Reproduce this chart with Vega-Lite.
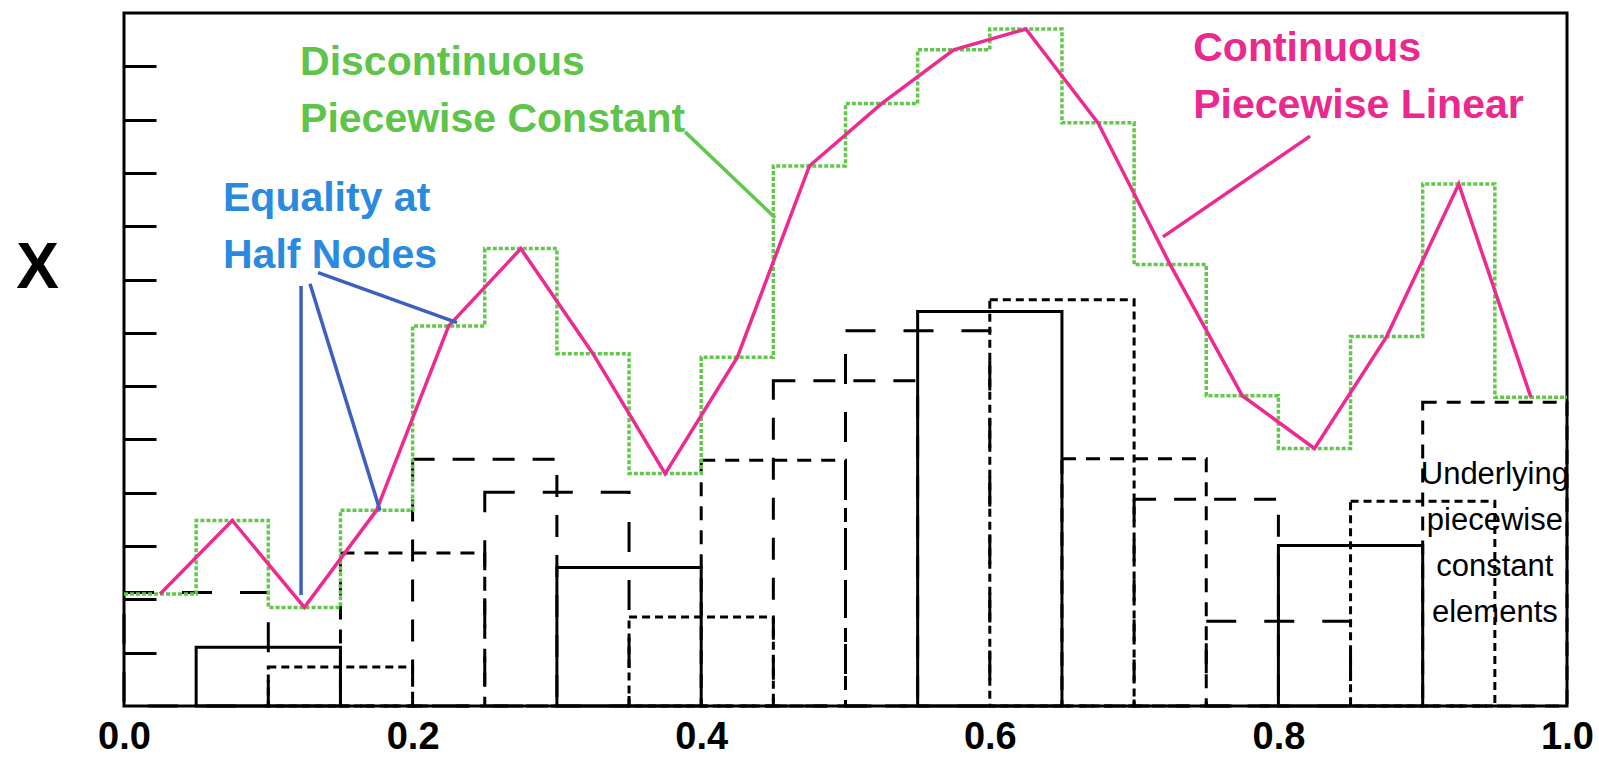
{
  "$schema": "https://vega.github.io/schema/vega-lite/v6.json",
  "width": 1443,
  "height": 693,
  "autosize": {"type": "none"},
  "padding": {"left": 124, "top": 13, "right": 32, "bottom": 51},
  "background": "white",
  "config": {"view": {"stroke": "black", "strokeWidth": 3}, "font": "Liberation Sans"},
  "resolve": {"scale": {"color": "independent"}},
  "datasets": {
    "elements": [
      {"a": 0.00, "b": 0.10, "h": 2.13, "style": "long"},
      {"a": 0.05, "b": 0.15, "h": 1.10, "style": "solid"},
      {"a": 0.10, "b": 0.20, "h": 0.73, "style": "short"},
      {"a": 0.15, "b": 0.25, "h": 2.87, "style": "medium"},
      {"a": 0.20, "b": 0.30, "h": 4.63, "style": "longish"},
      {"a": 0.25, "b": 0.35, "h": 4.01, "style": "long"},
      {"a": 0.30, "b": 0.40, "h": 2.60, "style": "solid"},
      {"a": 0.35, "b": 0.45, "h": 1.67, "style": "short"},
      {"a": 0.40, "b": 0.50, "h": 4.61, "style": "medium"},
      {"a": 0.45, "b": 0.55, "h": 6.10, "style": "longish"},
      {"a": 0.50, "b": 0.60, "h": 7.04, "style": "long"},
      {"a": 0.55, "b": 0.65, "h": 7.40, "style": "solid"},
      {"a": 0.60, "b": 0.70, "h": 7.62, "style": "short"},
      {"a": 0.65, "b": 0.75, "h": 4.64, "style": "medium"},
      {"a": 0.70, "b": 0.80, "h": 3.88, "style": "longish"},
      {"a": 0.75, "b": 0.85, "h": 1.59, "style": "long"},
      {"a": 0.80, "b": 0.90, "h": 3.01, "style": "solid"},
      {"a": 0.85, "b": 0.95, "h": 3.84, "style": "short"},
      {"a": 0.90, "b": 1.00, "h": 5.70, "style": "medium"}
    ],
    "green": [
      {"x": 0.00, "g": 2.10}, {"x": 0.05, "g": 3.48}, {"x": 0.10, "g": 1.85}, {"x": 0.15, "g": 3.67},
      {"x": 0.20, "g": 7.13}, {"x": 0.25, "g": 8.58}, {"x": 0.30, "g": 6.61}, {"x": 0.35, "g": 4.36},
      {"x": 0.40, "g": 6.54}, {"x": 0.45, "g": 10.13}, {"x": 0.50, "g": 11.30}, {"x": 0.55, "g": 12.31},
      {"x": 0.60, "g": 12.70}, {"x": 0.65, "g": 10.94}, {"x": 0.70, "g": 8.28}, {"x": 0.75, "g": 5.82},
      {"x": 0.80, "g": 4.83}, {"x": 0.85, "g": 6.93}, {"x": 0.90, "g": 9.79}, {"x": 0.95, "g": 5.79},
      {"x": 1.00, "g": 5.79}
    ],
    "pink": [
      {"x": 0.025, "g": 2.10}, {"x": 0.075, "g": 3.48}, {"x": 0.125, "g": 1.85}, {"x": 0.175, "g": 3.67},
      {"x": 0.225, "g": 7.13}, {"x": 0.275, "g": 8.58}, {"x": 0.325, "g": 6.61}, {"x": 0.375, "g": 4.36},
      {"x": 0.425, "g": 6.54}, {"x": 0.475, "g": 10.13}, {"x": 0.525, "g": 11.30}, {"x": 0.575, "g": 12.31},
      {"x": 0.625, "g": 12.70}, {"x": 0.675, "g": 10.94}, {"x": 0.725, "g": 8.28}, {"x": 0.775, "g": 5.82},
      {"x": 0.825, "g": 4.83}, {"x": 0.875, "g": 6.93}, {"x": 0.925, "g": 9.79}, {"x": 0.975, "g": 5.79}
    ],
    "leaders": [
      {"x": 0.1227, "g": 7.88, "x2": 0.1227, "g2": 2.08, "kind": "blue"},
      {"x": 0.1289, "g": 7.92, "x2": 0.1774, "g2": 3.67, "kind": "blue"},
      {"x": 0.1345, "g": 8.13, "x2": 0.2308, "g2": 7.19, "kind": "blue"},
      {"x": 0.3888, "g": 10.77, "x2": 0.4512, "g2": 9.16, "kind": "green"},
      {"x": 0.8219, "g": 10.69, "x2": 0.7200, "g2": 8.80, "kind": "pink"}
    ],
    "notes": [
      {"x": 0.122, "g": 11.83, "t": "Discontinuous\nPiecewise Constant", "kind": "green"},
      {"x": 0.0686, "g": 9.29, "t": "Equality at\nHalf Nodes", "kind": "blue"},
      {"x": 0.741, "g": 12.10, "t": "Continuous\nPiecewise Linear", "kind": "pink"}
    ],
    "under": [
      {"x": 0.950, "g": 4.16, "t": "Underlying\npiecewise\nconstant\nelements"}
    ]
  },
  "encoding": {
    "x": {"type": "quantitative", "scale": {"domain": [0, 1], "nice": false, "zero": false},
      "axis": {"values": [0, 0.2, 0.4, 0.6, 0.8, 1], "format": ".1f", "labelFontSize": 38, "labelFont": "Liberation Sans",
        "labelFontWeight": "bold", "labelColor": "black", "labelPadding": 50, "labelBaseline": "bottom",
        "ticks": false, "domain": false, "grid": false, "title": null, "labelFlush": false}},
    "y": {"type": "quantitative", "scale": {"domain": [0, 13], "nice": false, "zero": false},
      "axis": {"title": "X", "titleAngle": 0, "titleFontSize": 64, "titleFont": "Liberation Sans", "titleFontWeight": "bold",
        "titleColor": "black", "titleX": -87, "titleY": 255, "titleAlign": "center", "titleBaseline": "middle",
        "labels": false, "ticks": true, "tickSize": -32, "tickWidth": 3, "tickColor": "black", "domain": false,
        "grid": false, "values": [1, 2, 3, 4, 5, 6, 7, 8, 9, 10, 11, 12]}}
  },
  "layer": [
    {
      "data": {"name": "elements"},
      "transform": [{"filter": "datum.style == 'solid'"}],
      "mark": {"type": "rect", "fill": "transparent", "stroke": "black", "strokeWidth": 3},
      "encoding": {"x": {"field": "a"}, "x2": {"field": "b"}, "y": {"field": "h"}, "y2": {"datum": 0}}
    },
    {
      "data": {"name": "elements"},
      "transform": [{"filter": "datum.style == 'short'"}],
      "mark": {"type": "rect", "fill": "transparent", "stroke": "black", "strokeWidth": 3, "strokeDash": [8, 5]},
      "encoding": {"x": {"field": "a"}, "x2": {"field": "b"}, "y": {"field": "h"}, "y2": {"datum": 0}}
    },
    {
      "data": {"name": "elements"},
      "transform": [{"filter": "datum.style == 'medium'"}],
      "mark": {"type": "rect", "fill": "transparent", "stroke": "black", "strokeWidth": 3, "strokeDash": [14, 10]},
      "encoding": {"x": {"field": "a"}, "x2": {"field": "b"}, "y": {"field": "h"}, "y2": {"datum": 0}}
    },
    {
      "data": {"name": "elements"},
      "transform": [{"filter": "datum.style == 'longish'"}],
      "mark": {"type": "rect", "fill": "transparent", "stroke": "black", "strokeWidth": 3, "strokeDash": [22, 18]},
      "encoding": {"x": {"field": "a"}, "x2": {"field": "b"}, "y": {"field": "h"}, "y2": {"datum": 0}}
    },
    {
      "data": {"name": "elements"},
      "transform": [{"filter": "datum.style == 'long'"}],
      "mark": {"type": "rect", "fill": "transparent", "stroke": "black", "strokeWidth": 3, "strokeDash": [30, 28]},
      "encoding": {"x": {"field": "a"}, "x2": {"field": "b"}, "y": {"field": "h"}, "y2": {"datum": 0}}
    },
    {
      "data": {"name": "green"},
      "mark": {"type": "line", "interpolate": "step-after", "color": "#62c84c", "strokeWidth": 3.5, "strokeDash": [4, 2]},
      "encoding": {"x": {"field": "x"}, "y": {"field": "g"}}
    },
    {
      "data": {"name": "pink"},
      "mark": {"type": "line", "color": "#ee2a92", "strokeWidth": 3.5},
      "encoding": {"x": {"field": "x"}, "y": {"field": "g"}}
    },
    {
      "data": {"name": "leaders"},
      "mark": {"type": "rule", "strokeWidth": 3.5},
      "encoding": {
        "x": {"field": "x"},
        "y": {"field": "g"},
        "x2": {"field": "x2"},
        "y2": {"field": "g2"},
        "color": {"field": "kind", "type": "nominal", "legend": null,
          "scale": {"domain": ["blue", "green", "pink"], "range": ["#3d5fbf", "#62c84c", "#ee2a92"]}}
      }
    },
    {
      "data": {"name": "notes"},
      "mark": {"type": "text", "font": "Liberation Sans", "fontWeight": "bold", "fontSize": 41,
        "align": "left", "baseline": "alphabetic", "lineBreak": "\n", "lineHeight": 57},
      "encoding": {
        "x": {"field": "x"},
        "y": {"field": "g"},
        "text": {"field": "t"},
        "color": {"field": "kind", "type": "nominal", "legend": null,
          "scale": {"domain": ["blue", "green", "pink"], "range": ["#2a8ade", "#5ec44a", "#ea288e"]}}
      }
    },
    {
      "data": {"name": "under"},
      "mark": {"type": "text", "font": "Liberation Sans", "fontSize": 31, "color": "black",
        "align": "center", "baseline": "alphabetic", "lineBreak": "\n", "lineHeight": 46},
      "encoding": {"x": {"field": "x"}, "y": {"field": "g"}, "text": {"field": "t"}}
    }
  ]
}
